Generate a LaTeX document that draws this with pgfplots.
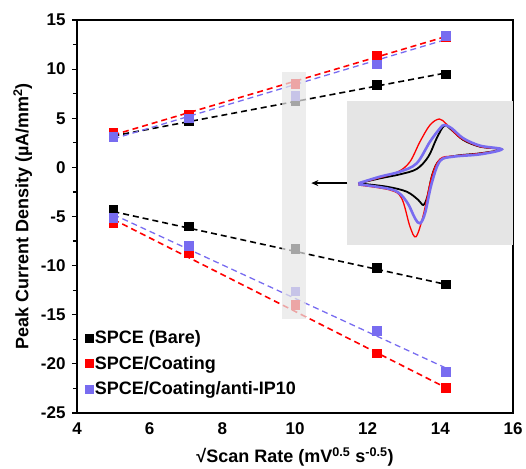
\documentclass[border=0pt]{standalone}
\usepackage{fontspec}
\setmainfont{Liberation Sans}
\usepackage{pgfplots}
\pgfplotsset{compat=1.18}
\usetikzlibrary{arrows.meta}
\definecolor{cvblue}{RGB}{120,108,240}
\definecolor{fadegray}{RGB}{230,230,230}

\begin{document}
\begin{tikzpicture}
\useasboundingbox (-77pt,-55pt) rectangle (449pt,413pt);
\begin{axis}[
  scale only axis,
  width=436pt, height=393pt,
  xmin=4, xmax=16, ymin=-25, ymax=15,
  xtick={4,6,...,16}, ytick={-25,-20,...,15},
  minor ytick={-22.5,-17.5,...,12.5},
  ytick pos=left, tick align=outside,
  xtick style={draw=none},
  major tick length=5pt, minor tick length=4pt,
  every tick/.style={black, line width=1.2pt},
  axis line style={line width=2.2pt},
  /pgf/number format/assume math mode=true,
  ticklabel style={font=\fontsize{17}{18}\selectfont\bfseries},
  yticklabel style={xshift=-3pt},
  xticklabel style={yshift=-1pt},
  xlabel={\fontsize{18}{19}\selectfont\bfseries √Scan Rate (mV\textsuperscript{0.5} s\textsuperscript{-0.5})},
  ylabel={\fontsize{18}{19}\selectfont\bfseries Peak Current Density (µA/mm\textsuperscript{2})},
  xlabel style={yshift=-6pt},
  ylabel style={yshift=2pt},
  legend style={at={(0.012,0.218)}, anchor=north west, draw=none, fill=none,
    font=\fontsize{18}{19}\selectfont\bfseries, row sep=9pt,
    nodes={inner sep=1pt}},
  legend cell align=left,
  legend image code/.code={\fill[#1] (-4pt,-4pt) rectangle (4pt,4pt);},
  clip=false,
]
% inset background
\fill[gray!20] (axis cs:11.44,6.8) rectangle (axis cs:16,-7.9);
% fit lines
\addplot[black, dashed, line width=1.6pt, dash pattern=on 6pt off 4pt, forget plot] coordinates {(5,3.2) (14.14,9.6)};
\addplot[red, dashed, line width=1.6pt, dash pattern=on 6pt off 4pt, forget plot] coordinates {(5,3.3) (14.14,13.3)};
\addplot[cvblue, dashed, line width=1.3pt, dash pattern=on 6pt off 4pt, forget plot] coordinates {(5,2.9) (14.14,13.0)};
\addplot[black, dashed, line width=1.6pt, dash pattern=on 6pt off 4pt, forget plot] coordinates {(5,-4.5) (14.14,-11.9)};
\addplot[red, dashed, line width=1.6pt, dash pattern=on 6pt off 4pt, forget plot] coordinates {(5,-5.3) (14.14,-22.4)};
\addplot[cvblue, dashed, line width=1.3pt, dash pattern=on 6pt off 4pt, forget plot] coordinates {(5,-4.8) (14.14,-20.4)};
% data points
\addplot[only marks, mark=square*, mark size=4.3pt, black,
  error bars/.cd, y dir=both, y explicit, error bar style={line width=3pt}, error mark=none]
  coordinates {(5,3.3)+-(0,0.3) (7.07,4.7)+-(0,0.3) (10,6.8)+-(0,0.3) (12.25,8.4)+-(0,0.3) (14.14,9.5)+-(0,0.3)};
\addlegendentry{SPCE (Bare)}
\addplot[only marks, mark=square*, mark size=4.3pt, red,
  error bars/.cd, y dir=both, y explicit, error bar style={line width=3pt}, error mark=none]
  coordinates {(5,3.5)+-(0,0.3) (7.07,5.4)+-(0,0.3) (10,8.5)+-(0,0.3) (12.25,11.4)+-(0,0.3) (14.14,13.3)+-(0,0.3)};
\addlegendentry{SPCE/Coating}
\addplot[only marks, mark=square*, mark size=4.3pt, cvblue,
  error bars/.cd, y dir=both, y explicit, error bar style={line width=3pt}, error mark=none]
  coordinates {(5,3.1)+-(0,0.3) (7.07,5.0)+-(0,0.3) (10,7.3)+-(0,0.3) (12.25,10.5)+-(0,0.3) (14.14,13.4)+-(0,0.3)};
\addlegendentry{SPCE/Coating/anti-IP10}
\addplot[only marks, mark=square*, mark size=4.3pt, black, forget plot,
  error bars/.cd, y dir=both, y explicit, error bar style={line width=3pt}, error mark=none]
  coordinates {(5,-4.3)+-(0,0.3) (7.07,-6.0)+-(0,0.3) (10,-8.3)+-(0,0.3) (12.25,-10.2)+-(0,0.3) (14.14,-11.9)+-(0,0.3)};
\addplot[only marks, mark=square*, mark size=4.3pt, red, forget plot,
  error bars/.cd, y dir=both, y explicit, error bar style={line width=3pt}, error mark=none]
  coordinates {(5,-5.7)+-(0,0.3) (7.07,-8.7)+-(0,0.3) (10,-14.0)+-(0,0.3) (12.25,-18.9)+-(0,0.3) (14.14,-22.4)+-(0,0.3)};
\addplot[only marks, mark=square*, mark size=4.3pt, cvblue, forget plot,
  error bars/.cd, y dir=both, y explicit, error bar style={line width=3pt}, error mark=none]
  coordinates {(5,-5.1)+-(0,0.3) (7.07,-8.0)+-(0,0.3) (10,-12.6)+-(0,0.3) (12.25,-16.6)+-(0,0.3) (14.14,-20.8)+-(0,0.3)};
\end{axis}
% overlay axis: faded band at x=10 and arrow, drawn above the marks
\begin{axis}[
  scale only axis, width=436pt, height=393pt,
  xmin=4, xmax=16, ymin=-25, ymax=15,
  hide axis, clip=false,
]
\fill[fadegray, fill opacity=0.72] (axis cs:9.65,9.7) rectangle (axis cs:10.31,-15.4);
\draw[-{Stealth[length=7pt,width=6pt]}, line width=1.5pt] (axis cs:11.44,-1.6) -- (axis cs:10.45,-1.6);
\end{axis}
% inset CV curves (coordinates in inset pixel units)
\begin{axis}[
  at={(270pt,313pt)}, anchor=north west,
  scale only axis, width=166pt, height=145pt,
  xmin=21, xmax=519, ymin=15, ymax=450, y dir=reverse,
  hide axis, clip=false,
]
\addplot[black, line width=1.8pt, smooth, tension=0.55] coordinates {
  (55,265) (120,250) (180,238) (230,222) (265,185) (290,130) (313,92) (335,105) (370,135) (420,155) (485,163)
  (420,175) (350,182) (300,195) (278,235) (262,305) (250,330) (235,315) (200,290) (140,275) (55,265)};
\addplot[red, line width=1.3pt, smooth, tension=0.55] coordinates {
  (55,265) (120,248) (175,230) (210,200) (240,140) (270,90) (298,72) (320,88) (360,128) (420,155) (485,163)
  (420,175) (340,183) (300,192) (275,245) (250,360) (228,425) (210,395) (185,310) (150,285) (55,270)};
\addplot[cvblue, line width=2.6pt, smooth, tension=0.55] coordinates {
  (55,265) (120,245) (180,230) (230,205) (270,140) (300,100) (313,90) (335,100) (370,130) (420,152) (485,163)
  (420,178) (340,185) (300,198) (275,265) (255,355) (240,385) (225,370) (200,320) (160,285) (55,268)};
\end{axis}
\end{tikzpicture}
\end{document}
